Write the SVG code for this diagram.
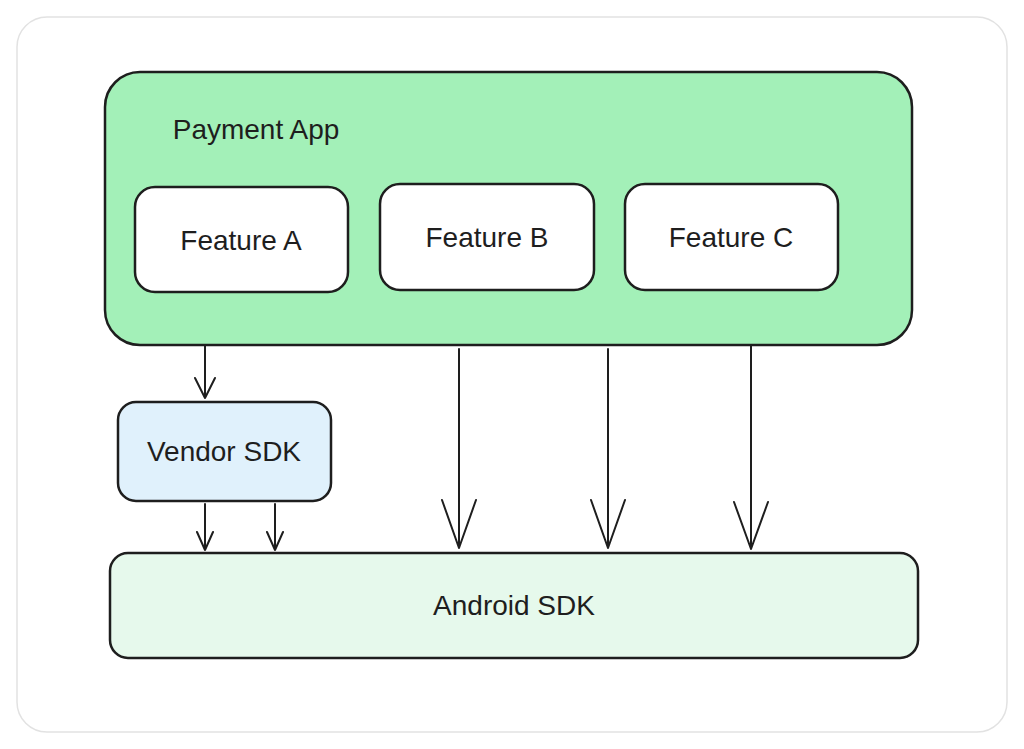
<svg xmlns="http://www.w3.org/2000/svg" width="1024" height="749" viewBox="0 0 1024 749">
<style>
.n{stroke:#1e1e1e;stroke-width:2.5}
.t{font-family:"Liberation Sans",sans-serif;font-size:28px;fill:#1e1e1e;text-anchor:middle;dominant-baseline:central}
.c{stroke:#1e1e1e;stroke-width:2;fill:none;stroke-linecap:round;stroke-linejoin:round}
</style>
<rect x="0" y="0" width="1024" height="749" fill="#ffffff"/>
<rect x="17" y="17" width="990" height="715" rx="30" fill="#ffffff" stroke="#e2e2e2" stroke-width="1.5"/>
<g id="payment-app"><rect class="n" x="105" y="72" width="807" height="273" rx="35" fill="#a3f0b8"/><text class="t" x="256" y="129">Payment App</text></g>
<g id="feature-a"><rect class="n" x="135" y="187" width="213" height="105" rx="20" fill="#ffffff"/><text class="t" x="241" y="240">Feature A</text></g>
<g id="feature-b"><rect class="n" x="380" y="184" width="214" height="106" rx="20" fill="#ffffff"/><text class="t" x="487" y="237">Feature B</text></g>
<g id="feature-c"><rect class="n" x="625" y="184" width="213" height="106" rx="20" fill="#ffffff"/><text class="t" x="731" y="237">Feature C</text></g>
<g id="vendor-sdk"><rect class="n" x="118" y="402" width="213" height="99" rx="18" fill="#e0f1fc"/><text class="t" x="224" y="451">Vendor SDK</text></g>
<g id="android-sdk"><rect class="n" x="110" y="553" width="808" height="105" rx="18" fill="#e6f9ec"/><text class="t" x="514" y="605">Android SDK</text></g>
<g id="connectors">
<path class="c" d="M205 346V398M195 378L205 398L215 378"/>
<path class="c" d="M205 504V550M197 532L205 550L213 532"/>
<path class="c" d="M275 504V550M267 532L275 550L283 532"/>
<path class="c" d="M459 349V548M442 500L459 548L476 500"/>
<path class="c" d="M608 349V548M591 500L608 548L625 500"/>
<path class="c" d="M751 346V549M734 502L751 549L768 502"/>
</g>
</svg>
